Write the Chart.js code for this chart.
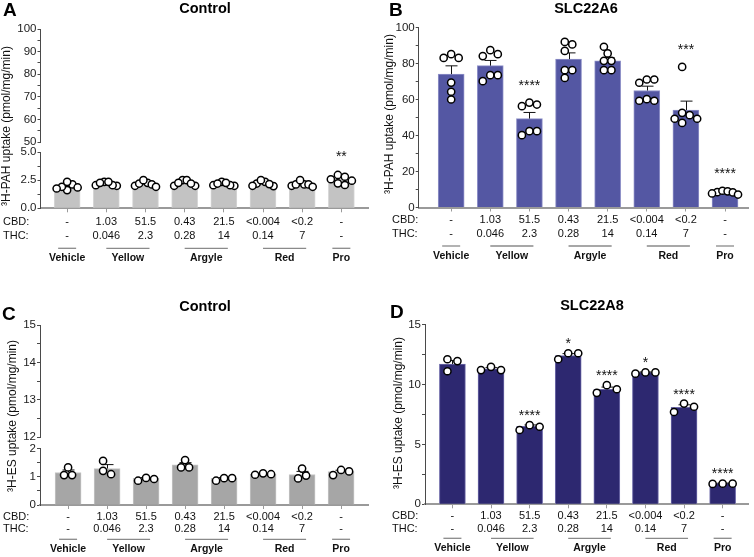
<!DOCTYPE html>
<html>
<head>
<meta charset="utf-8">
<script src="https://cdn.jsdelivr.net/npm/chart.js@4.4.1/dist/chart.umd.min.js"></script>
<style>
  body { margin: 0; background: #fff; }
  #wrap { position: relative; width: 754px; height: 557px; overflow: hidden; }
  canvas { position: absolute; }
</style>
</head>
<body>
<div id="wrap"></div>
<script>
// doses (ug/ml) under each bar
const cbdDose = ['-', '1.03', '51.5', '0.43', '21.5', '<0.004', '<0.2', '-'];
const thcDose = ['-', '0.046', '2.3', '0.28', '14', '0.14', '7', '-'];
const groupNames = ['Vehicle', 'Yellow', 'Argyle', 'Red', 'Pro'];
const groupFirst = [0, 1, 3, 5, 7];
const groupLast = [0, 2, 4, 6, 7];

// A - control cells, 3H-PAH
const aMean = [1.95, 2.17, 2.15, 2.27, 2.16, 2.22, 2.12, 2.6];
const aSem = [0.11, 0.06, 0.08, 0.09, 0.05, 0.08, 0.09, 0.13];
const aPoints = [
  [2.12, 1.62, 1.91, 2.35, 1.76, 1.85],
  [2.0, 2.35, 2.05, 2.35, 2.05, 2.26],
  [2.0, 2.26, 2.12, 2.2, 2.5, 1.91],
  [2.5, 2.0, 2.26, 2.5, 2.0, 2.2],
  [2.0, 2.35, 2.05, 2.26, 2.05, 2.2],
  [2.35, 1.97, 2.2, 2.5, 2.0, 2.15],
  [2.0, 2.12, 2.12, 2.12, 2.5, 1.91],
  [2.58, 2.07, 2.96, 2.45, 2.8, 2.22]
];
const aStars = ['', '', '', '', '', '', '', '**'];

// B - SLC22A6, 3H-PAH
const bMean = [74.1, 78.8, 49.4, 82.4, 81.5, 65.0, 54.1, 8.4];
const bSem = [4.6, 2.9, 3.4, 3.5, 1.8, 2.4, 5.0, 0.4];
const bPoints = [
  [85.2, 83.1, 83.1, 69.4, 64.3, 60.0],
  [85.2, 87.4, 84.1, 73.5, 73.5, 70.2],
  [58.3, 56.3, 57.2, 40.2, 42.4, 42.4],
  [90.6, 92.0, 87.0, 76.3, 76.3, 72.0],
  [89.3, 85.6, 81.5, 81.5, 76.3, 76.3],
  [71.1, 69.3, 71.1, 59.3, 60.2, 59.3],
  [78.1, 52.6, 51.3, 47.0, 49.3, 49.3],
  [8.5, 9.3, 9.0, 7.8, 8.4, 7.2]
];
const bStars = ['', '', '****', '', '', '', '***', '****'];

// C - control cells, 3H-ES
const cMean = [1.15, 1.29, 0.94, 1.42, 0.94, 1.09, 1.08, 1.18];
const cSem = [0.09, 0.14, 0.03, 0.08, 0.03, 0.02, 0.11, 0.05];
const cPoints = [
  [1.06, 1.33, 1.06],
  [1.09, 1.56, 1.21],
  [0.86, 0.96, 0.92],
  [1.33, 1.59, 1.33],
  [0.86, 0.95, 0.95],
  [1.07, 1.12, 1.09],
  [0.94, 1.29, 1.04],
  [1.06, 1.24, 1.19]
];
const cStars = ['', '', '', '', '', '', '', ''];

// D - SLC22A8, 3H-ES
const dMean = [11.7, 11.3, 6.5, 12.4, 9.6, 11.0, 8.1, 1.75];
const dSem = [0.3, 0.1, 0.12, 0.17, 0.18, 0.04, 0.2, 0.02];
const dPoints = [
  [12.1, 11.95, 11.1],
  [11.2, 11.47, 11.2],
  [6.2, 6.6, 6.47],
  [12.6, 12.6, 12.1],
  [9.94, 9.3, 9.6],
  [10.9, 11.0, 11.0],
  [8.4, 7.7, 8.14],
  [1.7, 1.72, 1.72]
];
const dStars = ['', '', '****', '*', '****', '*', '****', '****'];

const FONT = "'Liberation Sans', Arial, Helvetica, sans-serif";
const wrap = document.getElementById('wrap');

function addCanvas(x, y, w, h) {
  const c = document.createElement('canvas');
  c.width = w; c.height = h;
  c.style.left = x + 'px'; c.style.top = y + 'px';
  c.style.width = w + 'px'; c.style.height = h + 'px';
  wrap.appendChild(c);
  return c;
}

function yAxis(seg, width) {
  return {
    type: 'linear', min: seg.min, max: seg.max,
    afterFit: s => { s.width = width; },
    afterBuildTicks: s => {
      const t = [];
      const n = Math.round((seg.max - seg.min) / seg.step);
      for (let k = 0; k <= n; k++) t.push({ value: +(seg.min + k * seg.step).toFixed(4) });
      s.ticks = t;
    },
    ticks: {
      autoSkip: false, padding: 1, color: '#222',
      font: { family: FONT, size: 11.5 },
      callback: v => {
        const r = v / seg.major;
        if (Math.abs(r - Math.round(r)) > 1e-6) return '';
        return seg.fmt ? seg.fmt(v) : String(v);
      }
    },
    grid: { drawOnChartArea: false, drawTicks: true, tickLength: 3, color: '#4a4a4a', lineWidth: 1 },
    border: { color: '#4a4a4a', width: 1 }
  };
}

function deco(p) {
  return {
    id: 'deco',
    afterDatasetsUpdate(chart) {
      // spread overlapping dots sideways (scatter style)
      const meta = chart.getDatasetMeta(0);
      const groups = {};
      meta.data.forEach((el, j) => {
        const g = p.flat[j].x;
        (groups[g] = groups[g] || []).push(el);
      });
      const gap = p.swarm, step = gap / 2;
      for (const g in groups) {
        const els = groups[g].slice().sort((a, b) => a.y - b.y);
        const placed = [];
        for (const el of els) {
          for (let k = 0; k < 60; k++) {
            const off = (k % 2 ? 1 : -1) * Math.ceil(k / 2) * step;
            if (placed.every(q => Math.hypot(off - q.off, el.y - q.y) >= gap - 0.01)) {
              placed.push({ el, off, y: el.y });
              break;
            }
          }
        }
        const offs = placed.map(q => q.off);
        const lo = Math.min(...offs), hi = Math.max(...offs);
        const shift = -(lo + hi) / 2;
        const squeeze = hi - lo > p.maxSpan ? p.maxSpan / (hi - lo) : 1;
        placed.forEach(q => { q.el.x += (q.off + shift) * squeeze; });
      }
    },
    afterDatasetDraw(chart, args) {
      if (args.index !== 1) return;
      const ctx = chart.ctx, xs = chart.scales.x, ys = chart.scales.y;
      ctx.save();
      ctx.strokeStyle = '#111';
      ctx.lineWidth = 1;
      p.mean.forEach((m, i) => {
        const x = Math.round(xs.getPixelForValue(i)) + 0.5;
        const y0 = ys.getPixelForValue(m);
        const y1 = ys.getPixelForValue(m + p.sem[i]);
        ctx.beginPath();
        ctx.moveTo(x, y0); ctx.lineTo(x, y1);
        ctx.moveTo(x - 6, y1); ctx.lineTo(x + 6, y1);
        ctx.stroke();
      });
      ctx.restore();
    },
    afterDraw(chart) {
      const ctx = chart.ctx, xs = chart.scales.x, ys = chart.scales.y;
      ctx.save();
      ctx.fillStyle = '#000';
      // panel letter and title
      ctx.textBaseline = 'middle';
      ctx.textAlign = 'left';
      ctx.font = 'bold 19px ' + FONT;
      ctx.fillText(p.letter, p.letterPos[0], p.letterPos[1]);
      ctx.textAlign = 'center';
      ctx.font = 'bold 14.5px ' + FONT;
      ctx.fillText(p.title, p.titlePos[0], p.titlePos[1]);
      // y title
      ctx.save();
      ctx.translate(p.yTitlePos[0], p.yTitlePos[1]);
      ctx.rotate(-Math.PI / 2);
      ctx.font = '12px ' + FONT;
      ctx.fillStyle = '#111';
      ctx.fillText(p.yTitle, 0, 0);
      ctx.restore();
      // dose rows
      ctx.font = '11px ' + FONT;
      ctx.fillStyle = '#111';
      ctx.textAlign = 'left';
      ctx.fillText('CBD:', p.rowX, p.cbdY);
      ctx.fillText('THC:', p.rowX, p.thcY);
      ctx.textAlign = 'center';
      cbdDose.forEach((t, i) => {
        const x = xs.getPixelForValue(i);
        ctx.fillText(t, x, p.cbdY);
        ctx.fillText(thcDose[i], x, p.thcY);
      });
      // group brackets
      ctx.strokeStyle = '#8a8a8a';
      ctx.lineWidth = 1.3;
      ctx.font = 'bold 10.5px ' + FONT;
      groupNames.forEach((g, k) => {
        let x1 = xs.getPixelForValue(groupFirst[k]);
        let x2 = xs.getPixelForValue(groupLast[k]);
        if (groupFirst[k] === groupLast[k]) { x1 -= 9; x2 += 9; } else { x2 += 4; }
        ctx.beginPath();
        ctx.moveTo(x1, p.lineY); ctx.lineTo(x2, p.lineY);
        ctx.stroke();
        ctx.fillText(g, (x1 + x2) / 2, p.groupY);
      });
      // significance marks
      ctx.font = '14px ' + FONT;
      ctx.textBaseline = 'alphabetic';
      p.stars.forEach((s, i) => {
        if (!s) return;
        let top = ys.getPixelForValue(p.mean[i] + p.sem[i]);
        p.points[i].forEach(v => { top = Math.min(top, ys.getPixelForValue(v)); });
        const cy = top - p.starGap;
        ctx.fillText(s, xs.getPixelForValue(i), cy + 8);
      });
      ctx.restore();
    }
  };
}

function makePanel(p) {
  p.flat = [];
  p.points.forEach((arr, i) => arr.forEach(v => p.flat.push({ x: i, y: v })));
  const a = p.area;
  const cv = addCanvas(p.x, p.y, p.w, p.h);
  new Chart(cv, {
    type: 'bar',
    data: {
      datasets: [
        {
          type: 'scatter', data: p.flat, order: 1,
          pointRadius: 3.6, pointBorderWidth: 1.5,
          pointBackgroundColor: '#fff', pointBorderColor: '#000', clip: false
        },
        {
          type: 'bar', data: p.mean.map((v, i) => ({ x: i, y: v })), order: 2,
          backgroundColor: p.color, borderColor: p.edge, borderWidth: 1,
          barThickness: 26
        }
      ]
    },
    options: {
      responsive: false, animation: false, devicePixelRatio: 1, events: [],
      layout: { padding: { left: 0, top: a.top, right: p.w - a.right, bottom: 0 } },
      plugins: { legend: { display: false }, tooltip: { enabled: false } },
      scales: {
        x: {
          type: 'linear', min: p.xMin, max: p.xMax, offset: false,
          afterFit: s => { s.height = p.h - a.bottom; },
          afterBuildTicks: s => { s.ticks = cbdDose.map((c, i) => ({ value: i })); },
          ticks: { display: false },
          grid: { drawOnChartArea: false, drawTicks: true, tickLength: 4, color: '#9a9a9a', lineWidth: 1, offset: false },
          border: { color: '#9a9a9a', width: 2 }
        },
        y: yAxis(p.seg, a.left)
      }
    },
    plugins: [deco(p)]
  });
  if (p.upper) {
    const u = p.upper;
    const cu = addCanvas(p.x, p.y, p.w, u.h);
    new Chart(cu, {
      type: 'bar',
      data: { datasets: [{ data: [] }] },
      options: {
        responsive: false, animation: false, devicePixelRatio: 1, events: [],
        layout: { padding: { left: 0, top: u.top, right: p.w - a.right, bottom: u.h - u.bottom } },
        plugins: { legend: { display: false }, tooltip: { enabled: false } },
        scales: {
          x: { type: 'linear', min: p.xMin, max: p.xMax, display: false },
          y: yAxis(u, a.left)
        }
      }
    });
  }
}

makePanel({
  x: 0, y: 0, w: 377, h: 280,
  area: { left: 40.5, right: 368, top: 152, bottom: 208.3 },
  xMin: -0.68, xMax: 7.68,
  seg: { min: 0, max: 5, step: 1.25, major: 2.5, fmt: v => v.toFixed(1) },
  upper: { h: 150, top: 29, bottom: 142.7, min: 50, max: 100, step: 5, major: 10 },
  mean: aMean, sem: aSem, points: aPoints, stars: aStars, starGap: 22, swarm: 7, maxSpan: 21,
  color: '#c3c3c3', edge: '#d6d6d6',
  letter: 'A', letterPos: [3, 11], title: 'Control', titlePos: [205, 9],
  yTitle: '\u00B3H-PAH uptake (pmol/mg/min)', yTitlePos: [7, 126],
  rowX: 3, cbdY: 221.7, thcY: 236, lineY: 248.3, groupY: 258
});

makePanel({
  x: 377, y: 0, w: 377, h: 280,
  area: { left: 41.7, right: 371.7, top: 27.5, bottom: 207.5 },
  xMin: -0.83, xMax: 7.6,
  seg: { min: 0, max: 100, step: 10, major: 20 },
  mean: bMean, sem: bSem, points: bPoints, stars: bStars, starGap: 21, swarm: 7.5, maxSpan: 26,
  color: '#5457a3', edge: '#8f91c8',
  letter: 'B', letterPos: [12, 11], title: 'SLC22A6', titlePos: [209, 9],
  yTitle: '\u00B3H-PAH uptake (pmol/mg/min)', yTitlePos: [13, 114],
  rowX: 15, cbdY: 220, thcY: 234.3, lineY: 246, groupY: 256
});

makePanel({
  x: 0, y: 280, w: 377, h: 277,
  area: { left: 40, right: 368, top: 168.5, bottom: 225 },
  xMin: -0.72, xMax: 7.69,
  seg: { min: 0, max: 2, step: 0.5, major: 1 },
  upper: { h: 165, top: 45, bottom: 159, min: 12, max: 15, step: 0.5, major: 1 },
  mean: cMean, sem: cSem, points: cPoints, stars: cStars, starGap: 20, swarm: 8, maxSpan: 21,
  color: '#a6a6a6', edge: '#c4c4c4',
  letter: 'C', letterPos: [2, 35], title: 'Control', titlePos: [205, 27],
  yTitle: '\u00B3H-ES uptake (pmol/mg/min)', yTitlePos: [13, 136],
  rowX: 3, cbdY: 237, thcY: 249.3, lineY: 259.3, groupY: 269.3
});

makePanel({
  x: 377, y: 280, w: 377, h: 277,
  area: { left: 48, right: 376, top: 44.5, bottom: 224.3 },
  xMin: -0.71, xMax: 7.67,
  seg: { min: 0, max: 15, step: 2.5, major: 5 },
  mean: dMean, sem: dSem, points: dPoints, stars: dStars, starGap: 13, swarm: 10, maxSpan: 21,
  color: '#2d2870', edge: '#6d69a8',
  letter: 'D', letterPos: [13, 33], title: 'SLC22A8', titlePos: [215, 26],
  yTitle: '\u00B3H-ES uptake (pmol/mg/min)', yTitlePos: [22, 133],
  rowX: 15, cbdY: 235.7, thcY: 249.3, lineY: 258.3, groupY: 268.3
});
</script>
</body>
</html>
